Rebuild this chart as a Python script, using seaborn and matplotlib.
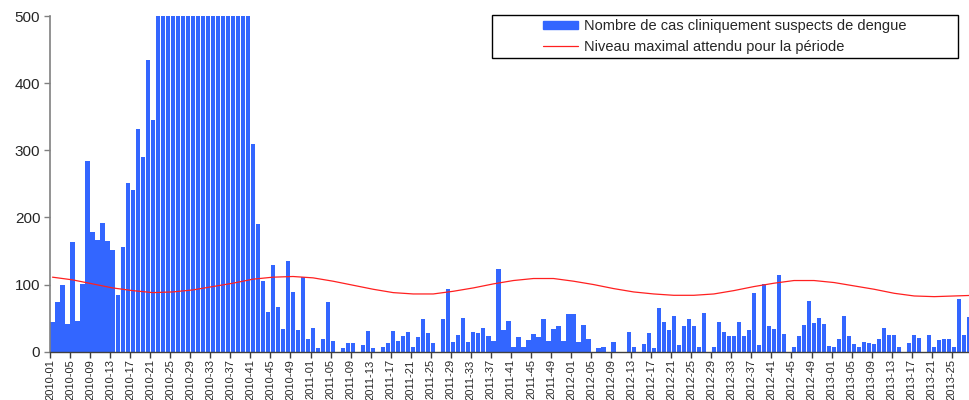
import matplotlib
matplotlib.use("Agg")
import matplotlib.pyplot as plt
from matplotlib.patches import Rectangle
from matplotlib.lines import Line2D
from matplotlib.patches import Patch
import seaborn as sns

# ── Data ──────────────────────────────────────────────────────────────────────

# weekly suspected dengue cases, 2010-01 .. 2013-28 (bars above 500 are cut off)
cases = [
    44, 74, 99, 42, 163, 46, 101, 284, 178, 166, 191, 165, 151, 84, 156, 252,
    241, 331, 290, 434, 345,
    620, 780, 950, 1150, 1300, 1450, 1550, 1500, 1400, 1300, 1200, 1100, 950,
    850, 780, 700, 640, 580, 530,
    309, 190, 105, 59, 129, 66, 34, 135, 89, 32, 111, 19,
    35, 5, 19, 74, 16, 0, 5, 13, 13, 0, 10, 31, 5, 0, 7, 13, 31, 16, 23, 29,
    7, 22, 49, 28, 13, 0, 49, 93, 14, 25, 50, 14, 29, 28, 35, 23, 16, 123,
    32, 46, 7, 22, 7, 17, 26, 22, 49, 16, 34, 38, 16,
    56, 56, 14, 40, 19, 0, 5, 7, 0, 14, 0, 0, 29, 7, 0, 11, 28, 5, 65, 44,
    32, 53, 10, 38, 49, 38, 7, 58, 0, 7, 44, 29, 23, 23, 44, 23, 32, 87, 10,
    101, 38, 34, 114, 26, 0,
    7, 23, 40, 75, 43, 50, 41, 8, 7, 19, 53, 23, 11, 7, 14, 13, 11, 19, 35,
    25, 25, 7, 0, 13, 25, 20, 0, 25, 7, 17, 19, 19, 7, 78, 25, 52,
]

# expected maximum level, read every 4 weeks
threshold_week = list(range(0, 185, 4))
threshold = [
    111, 107, 101, 95, 91, 88, 89, 92, 97, 102, 108, 111, 112,
    110, 105, 99, 93, 88, 86, 86, 90, 95, 101, 106, 109, 109,
    105, 100, 94, 89, 86, 84, 84, 86, 91, 97, 102, 106, 106,
    103, 98, 93, 87, 83, 82, 83, 84,
]

years = [2010, 2011, 2012, 2013]
week_labels = [f"{y}-{w:02d}" for y in years for w in range(1, 53)]

BAR_LABEL = "Nombre de cas cliniquement suspects de dengue"
LINE_LABEL = "Niveau maximal attendu pour la période"

# ── Plot ──────────────────────────────────────────────────────────────────────

sns.set_theme(style="white")
plt.rcParams["font.family"] = ["Liberation Sans", "DejaVu Sans"]

W, H = 970, 400
fig = plt.figure(figsize=(W / 100, H / 100), dpi=100)
ax = fig.add_axes([50 / W, (H - 351.7) / H, 920 / W, (351.7 - 16) / H])

idx = list(range(len(cases)))
sns.barplot(x=idx, y=cases, native_scale=True, width=0.85, color="#3366FF",
            saturation=1, errorbar=None, linewidth=0, ax=ax)
sns.lineplot(x=threshold_week, y=threshold, color="#FF2020", linewidth=0.9, ax=ax)

ax.set_yticks(range(0, 501, 100))
ax.tick_params(axis="y", labelsize=11, length=4, width=1, color="#808080",
               direction="out", left=True, pad=3)

ticks = list(range(0, len(cases) + 1, 4))
ax.set_xticks([t - 0.5 for t in ticks])
ax.set_xticklabels([week_labels[t] for t in ticks], rotation=90, fontsize=8)
ax.tick_params(axis="x", length=4, width=1, color="#404040",
               direction="out", bottom=True, pad=1.5)
ax.set_xlabel("")
ax.set_ylabel("")

# limits last, so the ticks do not widen the view
ax.set_xlim(-0.5, -0.5 + 920 / 5.01)
ax.set_ylim(0, 500)

sns.despine(ax=ax, top=True, right=True)
ax.spines["left"].set_color("#808080")
ax.spines["left"].set_linewidth(1.2)
ax.spines["bottom"].set_color("#404040")
ax.spines["bottom"].set_linewidth(1)

# legend with a plain black box
handles = [Patch(color="#3366FF", label=BAR_LABEL),
           Line2D([], [], color="#FF2020", linewidth=0.9, label=LINE_LABEL)]
fig.legend(handles=handles, loc="center", frameon=False, fontsize=10.5,
           bbox_to_anchor=(725 / W, 1 - 36.5 / H), handlelength=2.4,
           handleheight=0.5, handletextpad=0.4, labelspacing=0.5)
fig.patches.append(Rectangle((492 / W, 1 - 58 / H), 466 / W, 43 / H,
                             transform=fig.transFigure, fill=False,
                             edgecolor="black", linewidth=1))

fig.savefig("out.png", dpi=100)
